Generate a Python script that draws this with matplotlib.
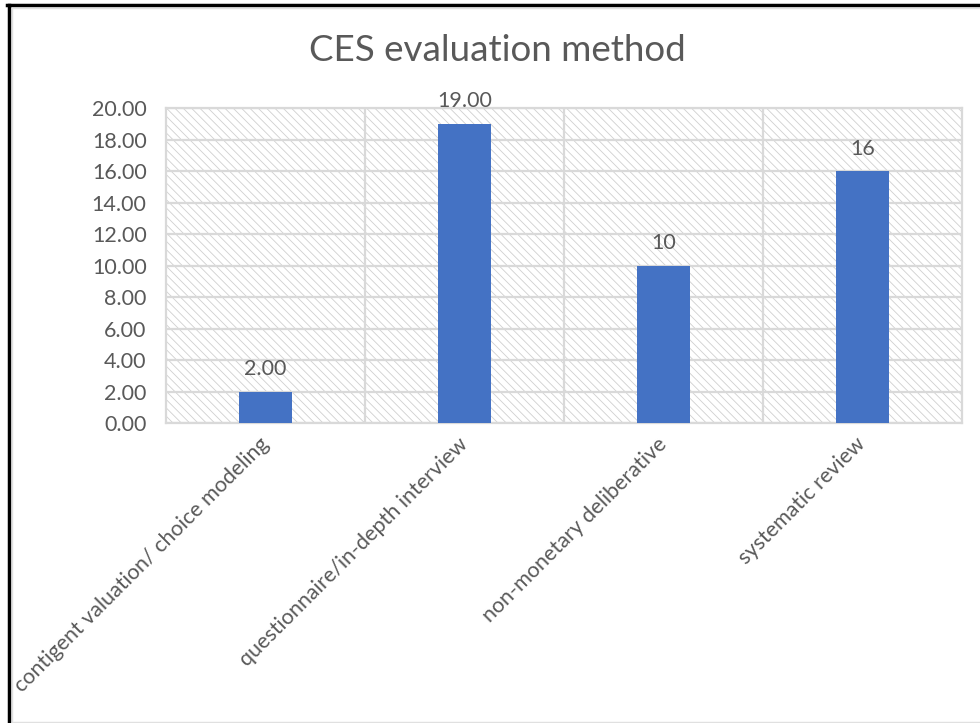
import matplotlib.pyplot as plt
from matplotlib.patches import Rectangle
from matplotlib.lines import Line2D

categories = ["contigent valuation/ choice modeling",
              "questionnaire/in-depth interview",
              "non-monetary deliberative",
              "systematic review"]
counts = [2, 19, 10, 16]
bar_labels = ["2.00", "19.00", "10", "16"]
y_ticks = [0, 2, 4, 6, 8, 10, 12, 14, 16, 18, 20]

plt.rcParams['font.family'] = ['Lato', 'DejaVu Sans']
plt.rcParams['hatch.linewidth'] = 0.6

text_grey = "#595959"
grid_grey = "#d9d9d9"

fig = plt.figure(figsize=(9.8, 7.23), dpi=100)
ax = fig.add_axes([0.1694, 0.4149, 0.8122, 0.4357])

# hatched plot area like the excel chart
ax.add_patch(Rectangle((0, 0), 1, 1, transform=ax.transAxes, facecolor="white",
                       edgecolor="#cfcfcf", hatch="\\\\\\\\", lw=0, zorder=0))

x = list(range(len(categories)))
ax.bar(x, counts, width=0.27, color="#4472C4", zorder=3)

for i, (v, lab) in enumerate(zip(counts, bar_labels)):
    ax.annotate(lab, (i, v), xytext=(0, 9), textcoords="offset points",
                ha="center", va="bottom", fontsize=15.5, color=text_grey)

ax.set_xlim(-0.5, len(categories) - 0.5)
ax.set_ylim(0, 20)
ax.set_yticks(y_ticks)
ax.set_yticklabels([f"{t:.2f}" for t in y_ticks])
ax.set_xticks(x)
ax.set_xticklabels(categories, rotation=45, ha="right", va="center",
                   rotation_mode="anchor")
ax.set_xticks([i + 0.5 for i in x[:-1]], minor=True)
ax.tick_params(axis="both", which="both", length=0, labelsize=15.5,
               labelcolor=text_grey)
ax.tick_params(axis="x", pad=13)
ax.tick_params(axis="y", pad=14)

ax.grid(axis="y", color=grid_grey, lw=1.6, zorder=1)
ax.grid(axis="x", which="minor", color=grid_grey, lw=1.6, zorder=1)
ax.set_axisbelow(True)
for s in ax.spines.values():
    s.set_color(grid_grey)
    s.set_linewidth(1.6)

fig.text(0.508, 0.93, "CES evaluation method", ha="center", va="center",
         fontsize=26.5, color=text_grey)

# frame around the figure
W, H = 980, 723
fig.add_artist(Line2D([8.5 / W, 8.5 / W], [0, 1 - 4.5 / H], color="black", lw=2.5))
fig.add_artist(Line2D([7 / W, 1], [1 - 4.5 / H, 1 - 4.5 / H], color="black", lw=2.5))
fig.add_artist(Line2D([11.5 / W, 1], [1 - 7.5 / H, 1 - 7.5 / H], color="#e0e0e0", lw=1))
fig.add_artist(Line2D([11.5 / W, 11.5 / W], [1.5 / H, 1 - 7.5 / H], color="#e0e0e0", lw=1))
fig.add_artist(Line2D([11.5 / W, 1], [1.5 / H, 1.5 / H], color="#e0e0e0", lw=1))

fig.savefig("out.png", dpi=100)
